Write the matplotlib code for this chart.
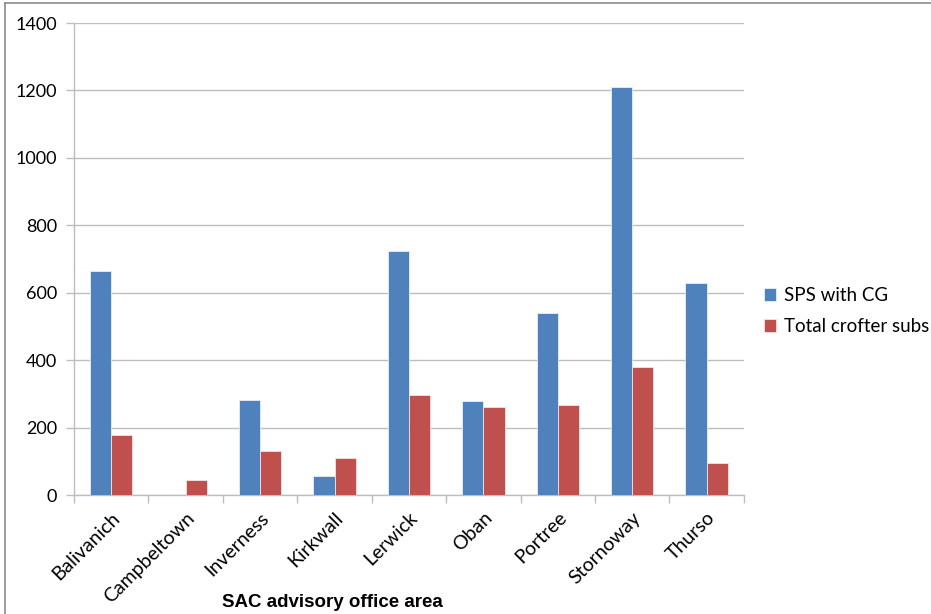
import matplotlib.pyplot as plt
import numpy as np
from matplotlib.lines import Line2D

areas = ["Balivanich", "Campbeltown", "Inverness", "Kirkwall", "Lerwick",
         "Oban", "Portree", "Stornoway", "Thurso"]
sps_with_cg = [665, 0, 283, 56, 724, 280, 540, 1209, 629]
crofter_subs = [178, 44, 131, 111, 298, 260, 267, 379, 96]
y_ticks = [0, 200, 400, 600, 800, 1000, 1200, 1400]

blue = "#4F81BD"
red = "#C0504D"
grid_grey = "#BEBEBE"

fig = plt.figure(figsize=(9.31, 6.14), dpi=100)
ax = fig.add_axes([0.0795, 0.1938, 0.7195, 0.7687])

x = np.arange(len(areas))
w = 1 / 3.5  # excel style gap width of 150%
ax.bar(x - w / 2, sps_with_cg, width=w, color=blue, edgecolor="#E8EEF7",
       linewidth=0.6, label="SPS with CG", zorder=3)
ax.bar(x + w / 2, crofter_subs, width=w, color=red, edgecolor="#F4E3E2",
       linewidth=0.6, label="Total crofter subs", zorder=3)

ax.set_xlim(-0.5, len(areas) - 0.5)
ax.set_ylim(0, 1400)
ax.set_yticks(y_ticks)
ax.set_yticklabels([str(v) for v in y_ticks], family="Lato", fontsize=13)
ax.yaxis.grid(True, color=grid_grey, linewidth=1.0)
ax.set_axisbelow(True)

# category ticks sit on the boundaries between groups
ax.set_xticks(np.arange(-0.5, len(areas)), minor=True)
ax.set_xticks(x)
ax.set_xticklabels(areas, rotation=45, ha="right", rotation_mode="anchor",
                   family="Lato", fontsize=14)
ax.tick_params(axis="x", which="major", length=0, pad=10)
ax.tick_params(axis="x", which="minor", length=6, color=grid_grey, width=1)
ax.tick_params(axis="y", length=6, color=grid_grey, width=1, pad=6)

for side in ["top", "right"]:
    ax.spines[side].set_visible(False)
for side in ["left", "bottom"]:
    ax.spines[side].set_color(grid_grey)
    ax.spines[side].set_linewidth(1.0)

ax.set_xlabel("SAC advisory office area", family="Liberation Sans",
              fontweight="bold", fontsize=13.5, labelpad=2)
ax.xaxis.set_label_coords(0.385, -0.21)

ax.legend(loc="center left", bbox_to_anchor=(1.005, 0.39), frameon=False,
          prop={"family": "Lato", "size": 13.5}, handlelength=0.65,
          handleheight=0.65, handletextpad=0.4, labelspacing=0.75)

# thin frame along the top and left of the image
fig.add_artist(Line2D([5 / 931, 1], [1 - 3 / 614, 1 - 3 / 614],
                      color="#8C8C8C", linewidth=1.2))
fig.add_artist(Line2D([5 / 931, 5 / 931], [0, 1 - 3 / 614],
                      color="#8C8C8C", linewidth=1.2))

fig.savefig("out.png", dpi=100)
